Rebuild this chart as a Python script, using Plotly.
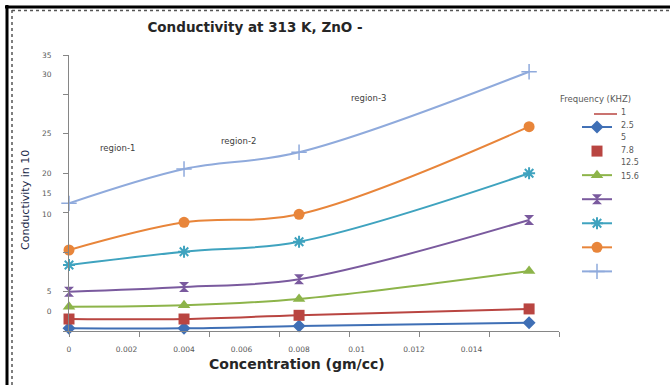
import plotly.graph_objects as go

# ---- data -------------------------------------------------------------
concentration = [0.0, 0.004, 0.008, 0.016]

series_blue = [0.34, 0.34, 0.63, 1.05]
series_red = [1.52, 1.52, 1.99, 2.80]
series_green = [3.08, 3.26, 4.06, 7.61]
series_purple = [4.98, 5.58, 6.56, 14.08]
series_teal = [8.37, 10.06, 11.32, 20.00]
series_orange = [10.27, 13.78, 14.80, 25.91]
series_lightblue = [16.19, 20.54, 22.66, 32.88]

x_tick_vals = [0, 0.002, 0.004, 0.006, 0.008, 0.010, 0.012, 0.014]
x_tick_text = ["0", "0.002", "0.004", "0.006", "0.008", "0.01", "0.012", "0.014"]
y_label_pos = [35, 32.5, 25, 20, 17.5, 14.85, 5, 2.5]
y_label_text = ["35", "30", "25", "20", "15", "10", "5", "0"]

legend_labels = ["1", "2.5", "5", "7.8", "12.5", "15.6"]
region_labels = ["region-1", "region-2", "region-3"]
region_x = [0.00167, 0.00588, 0.0104]
region_y = [23.2, 24.1, 29.5]

X_MAX = 0.01704
Y_MAX = 35

# ---- page geometry ----------------------------------------------------
W, H = 670, 385
PL, PR, PT, PB = 69, 559, 55, 331


def fx(px):
    return (px - PL) / (PR - PL)


def fy(py):
    return (PB - py) / (PB - PT)


FONT = "DejaVu Sans"
TICK_GREY = "#595959"
AXIS_GREY = "#868686"

fig = go.Figure()

line_w = 2


def add_series(y, color, symbol, size, mline=None, legend=True, mode="lines+markers"):
    fig.add_trace(go.Scatter(
        x=concentration, y=y, mode=mode, name="",
        showlegend=legend, cliponaxis=False,
        line=dict(color=color, width=line_w, shape="spline", smoothing=1.0),
        marker=dict(symbol=symbol, size=size, color=color,
                    line=dict(color=color, width=mline if mline else 0)),
    ))


add_series(series_blue, "#3F6FB5", "diamond", 10)
# red series: line kept out of the legend, key shows only the square
add_series(series_red, "#B94541", "square", 11, legend=False, mode="lines")
add_series(series_red, "#B94541", "square", 11, mode="markers")
add_series(series_green, "#8DB44A", "triangle-up", 11)
add_series(series_purple, "#7A5A9E", "hourglass", 10)
add_series(series_teal, "#3FA3BF", "asterisk-open", 10, mline=2)
add_series(series_orange, "#E8853A", "circle", 11)
add_series(series_lightblue, "#8FAADC", "cross-thin-open", 11, mline=1.5)


def note(x, y, text, size, color, xanchor="center", textangle=0, ref="paper"):
    return dict(x=x, y=y, xref=ref, yref=ref if ref == "paper" else "y",
                xanchor=xanchor, yanchor="middle", text=text, textangle=textangle,
                showarrow=False, font=dict(family=FONT, size=size, color=color))


annotations = []
for txt, ax, ay in zip(region_labels, region_x, region_y):
    annotations.append(note(ax, ay, txt, 8.5, "#404040", ref="x"))

# legend title and frequency labels
annotations.append(note(fx(595), fy(99), "Frequency (KHZ)", 8.5, TICK_GREY))
label_y = [112, 125, 137, 150, 162, 176]
for txt, ly in zip(legend_labels, label_y):
    annotations.append(note(fx(619), fy(ly), txt, 8, TICK_GREY, xanchor="left"))

# axis titles
annotations.append(note(fx(297), fy(364), "<b>Concentration (gm/cc)</b>", 14, "#262626"))
annotations.append(note(fx(25), fy(200), "Conductivity in 10", 11, "#1c2a48", textangle=-90))

shapes = [
    # outer frame
    dict(type="line", xref="paper", yref="paper", x0=fx(5), x1=fx(670), y0=fy(7), y1=fy(7),
         line=dict(color="black", width=3)),
    dict(type="line", xref="paper", yref="paper", x0=fx(7), x1=fx(7), y0=fy(5), y1=fy(385),
         line=dict(color="black", width=3)),
    dict(type="line", xref="paper", yref="paper", x0=fx(12), x1=fx(670), y0=fy(10.5), y1=fy(10.5),
         line=dict(color="#555555", width=1.5, dash="dot")),
    dict(type="line", xref="paper", yref="paper", x0=fx(12), x1=fx(12), y0=fy(10), y1=fy(385),
         line=dict(color="#555555", width=1.5, dash="dot")),
    # stray key line next to "1"
    dict(type="line", xref="paper", yref="paper", x0=fx(594), x1=fx(617), y0=fy(114), y1=fy(114),
         line=dict(color="#B94541", width=1.5)),
]

fig.update_layout(
    width=W, height=H,
    margin=dict(l=PL, r=W - PR, t=PT, b=H - PB),
    paper_bgcolor="white", plot_bgcolor="white",
    title=dict(text="<b>Conductivity at 313 K, ZnO -</b>", xref="container", yref="container",
               x=255 / W, y=1 - 27 / H, xanchor="center", yanchor="middle",
               font=dict(family=FONT, size=13.5, color="#262626")),
    xaxis=dict(range=[0, X_MAX], tickmode="array", tickvals=x_tick_vals, ticktext=x_tick_text,
               ticks="", showgrid=False, zeroline=False, showline=True, linecolor=AXIS_GREY,
               linewidth=1, ticklabelstandoff=11,
               tickfont=dict(family=FONT, size=7.5, color=TICK_GREY),
               minor=dict(ticks="outside", tickmode="linear", tick0=0, dtick=X_MAX / 7,
                          ticklen=5, tickcolor=AXIS_GREY, tickwidth=1, showgrid=False)),
    yaxis=dict(range=[0, Y_MAX], tickmode="array", tickvals=y_label_pos, ticktext=y_label_text,
               ticks="", showgrid=False, zeroline=False, showline=True, linecolor=AXIS_GREY,
               linewidth=1, ticklabelstandoff=15,
               tickfont=dict(family=FONT, size=7.5, color=TICK_GREY),
               minor=dict(ticks="outside", tickmode="linear", tick0=0, dtick=5,
                          ticklen=5, tickcolor=AXIS_GREY, tickwidth=1, showgrid=False)),
    legend=dict(x=fx(577), y=fy(110), xanchor="left", yanchor="top",
                bgcolor="rgba(0,0,0,0)", font=dict(family=FONT, size=16.2),
                tracegroupgap=0, itemwidth=30),
    annotations=annotations,
    shapes=shapes,
    showlegend=True,
)

fig.write_html("out.html")
